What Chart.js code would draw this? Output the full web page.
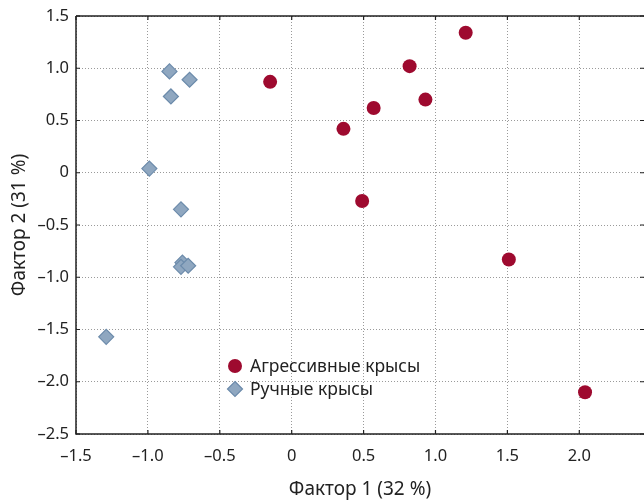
<!DOCTYPE html>
<html><head><meta charset="utf-8">
<script src="https://cdn.jsdelivr.net/npm/chart.js@4.4.1/dist/chart.umd.min.js"></script>
<style>html,body{margin:0;padding:0;background:#fff}#wrap{width:644px;height:501px}</style>
</head><body><div id="wrap"><canvas id="c" width="644" height="501"></canvas></div>
<script>
const seriesNames = ["Агрессивные крысы", "Ручные крысы"];
const aggressiveX = [-0.15, 0.36, 0.57, 0.82, 0.93, 1.21, 0.49, 1.51, 2.04];
const aggressiveY = [0.87, 0.42, 0.62, 1.02, 0.70, 1.34, -0.27, -0.83, -2.10];
const tameX = [-0.85, -0.71, -0.84, -0.99, -0.77, -0.76, -0.77, -0.72, -1.29];
const tameY = [0.97, 0.89, 0.73, 0.04, -0.35, -0.86, -0.90, -0.89, -1.57];
const xTicks = [-1.5, -1.0, -0.5, 0, 0.5, 1.0, 1.5, 2.0];
const yTicks = [1.5, 1.0, 0.5, 0, -0.5, -1.0, -1.5, -2.0, -2.5];
const xTitle = "Фактор 1 (32 %)";
const yTitle = "Фактор 2 (31 %)";

const FONT = "'Noto Sans', sans-serif";
const fmt = v => { if (v === 0) return "0"; const s = Math.abs(v).toFixed(1); return (v < 0 ? "\u2013" : "") + s; };
const toPts = (xs, ys) => xs.map((x, i) => ({x: x, y: ys[i]}));

const frame = {
  id: 'frame',
  afterDatasetsDraw(chart) {
    const {ctx, chartArea: a, scales} = chart;
    ctx.save();
    ctx.strokeStyle = '#222'; ctx.lineWidth = 1.5;
    ctx.beginPath();
    ctx.moveTo(a.left, a.top); ctx.lineTo(a.right, a.top);
    ctx.moveTo(a.left, a.top); ctx.lineTo(a.left, a.bottom); ctx.lineTo(a.right, a.bottom);
    ctx.stroke();
    ctx.lineWidth = 1.2;
    ctx.beginPath();
    xTicks.forEach(v => { const px = scales.x.getPixelForValue(v);
      ctx.moveTo(px, a.bottom); ctx.lineTo(px, a.bottom - 4);
      ctx.moveTo(px, a.top); ctx.lineTo(px, a.top + 4); });
    yTicks.forEach(v => { const py = scales.y.getPixelForValue(v);
      ctx.moveTo(a.left, py); ctx.lineTo(a.left + 4, py);
      ctx.moveTo(a.right, py); ctx.lineTo(a.right - 4, py); });
    ctx.stroke();
    // legend
    const ds = chart.data.datasets;
    const lx = 235, ly = [366, 389];
    ctx.font = "17.5px " + FONT; ctx.textBaseline = 'middle';
    ds.forEach((d, i) => {
      ctx.fillStyle = d.backgroundColor; ctx.strokeStyle = d.borderColor; ctx.lineWidth = d.borderWidth;
      ctx.beginPath();
      if (d.pointStyle === 'circle') { ctx.arc(lx, ly[i], 7, 0, Math.PI * 2); }
      else { ctx.moveTo(lx, ly[i] - 7.5); ctx.lineTo(lx + 7.5, ly[i]); ctx.lineTo(lx, ly[i] + 7.5); ctx.lineTo(lx - 7.5, ly[i]); ctx.closePath(); }
      ctx.fill(); if (d.borderWidth) ctx.stroke();
      ctx.fillStyle = '#222';
      ctx.fillText(d.label, lx + 15, ly[i] + 1);
    });
    ctx.restore();
  }
};

new Chart(document.getElementById('c'), {
  type: 'scatter',
  data: { datasets: [
    { label: seriesNames[0], data: toPts(aggressiveX, aggressiveY), pointStyle: 'circle', pointRadius: 7, pointHoverRadius: 7,
      backgroundColor: '#9e0a2f', borderColor: '#9e0a2f', borderWidth: 0 },
    { label: seriesNames[1], data: toPts(tameX, tameY), pointStyle: 'rectRot', pointRadius: 7.5, pointHoverRadius: 7.5,
      backgroundColor: '#8fa7c0', borderColor: '#6c8bab', borderWidth: 1.2 }
  ]},
  options: {
    responsive: false, animation: false, devicePixelRatio: 1,
    layout: { autoPadding: false, padding: { top: 16, right: 0, left: 0, bottom: 0 } },
    plugins: { legend: { display: false }, tooltip: { enabled: false } },
    scales: {
      x: { type: 'linear', min: -1.5, max: 2.45,
        afterBuildTicks: s => { s.ticks = xTicks.map(v => ({value: v})); },
        afterFit: s => { s.height = 67; s.paddingLeft = 0; s.paddingRight = 0; },
        ticks: { callback: v => fmt(v), color: '#222', font: { family: FONT, size: 16.5 }, padding: 12, maxRotation: 0, autoSkip: false },
        grid: { color: '#9a9a9a', lineWidth: 1, drawTicks: false },
        border: { display: false, dash: [1, 2] },
        title: { display: true, text: xTitle, color: '#222', font: { family: FONT, size: 19 }, padding: { top: 14, bottom: 0 } } },
      y: { type: 'linear', min: -2.5, max: 1.5,
        afterBuildTicks: s => { s.ticks = yTicks.map(v => ({value: v})); },
        afterFit: s => { s.width = 76; s.paddingTop = 0; s.paddingBottom = 0; },
        ticks: { callback: v => fmt(v), color: '#222', font: { family: FONT, size: 16.5 }, padding: 7, autoSkip: false },
        grid: { color: '#9a9a9a', lineWidth: 1, drawTicks: false },
        border: { display: false, dash: [1, 2] },
        title: { display: true, text: yTitle, color: '#222', font: { family: FONT, size: 19 }, padding: { bottom: 0, top: 8 } } }
    }
  },
  plugins: [frame]
});
</script></body></html>
